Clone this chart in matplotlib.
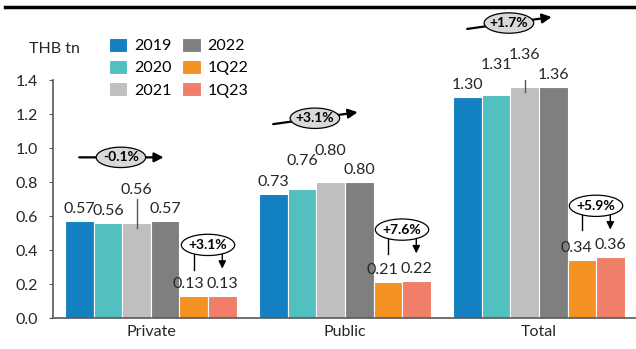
import numpy as np
import matplotlib
matplotlib.use("Agg")
import matplotlib.pyplot as plt
from matplotlib.patches import Ellipse
from matplotlib.lines import Line2D

plt.rcParams['font.family'] = ['Lato', 'DejaVu Sans']

groups = ["Private", "Public", "Total"]
periods = ["2019", "2020", "2021", "2022", "1Q22", "1Q23"]
colors = ["#1380C2", "#52BFC0", "#BFBFBF", "#7F7F7F", "#F39123", "#F07F6A"]

private = [0.57, 0.56, 0.56, 0.57, 0.13, 0.13]
public = [0.73, 0.76, 0.80, 0.80, 0.21, 0.22]
total = [1.30, 1.31, 1.36, 1.36, 0.34, 0.36]

cagr_labels = ["-0.1%", "+3.1%", "+1.7%"]
yoy_labels = ["+3.1%", "+7.6%", "+5.9%"]

# extra lift (px) for some value labels, as in the original
lift = [[0, 0, 21, 0, 0, 0],
        [0, 16, 19, 0, 0, 0],
        [0, 18, 20, 0, 0, 0]]
leader = [True, False, True]

W, H = 636, 349
FS = 11.5
fig = plt.figure(figsize=(W / 100, H / 100), dpi=100)
ax = fig.add_axes([53 / W, 31 / H, 583 / W, 238 / H])

data = np.array([private, public, total])
x = np.arange(len(groups))
w = 0.147
px = 1.4 / 238  # data units per pixel (y)

for i in range(len(periods)):
    ax.bar(x + (i - 2.5) * w, data[:, i], w, color=colors[i], edgecolor='white',
           linewidth=0.8, label=periods[i], zorder=2)

# value labels
for g in range(len(groups)):
    for i in range(len(periods)):
        xc = g + (i - 2.5) * w
        v = data[g, i]
        dy = (12 + lift[g][i]) * 0.72
        dx = -5 * 0.72 if i == 4 else 0
        ax.annotate(f"{v:.2f}", (xc, v), xytext=(dx, dy), textcoords='offset points',
                    ha='center', va='center', fontsize=FS, color='#262626')
    if leader[g]:
        xc = g - 0.5 * w
        v = data[g, 2]
        ax.plot([xc, xc], [v - 5 * px, v + (3 + lift[g][2]) * px], color='#595959', lw=1, zorder=3)

arrow_big = dict(arrowstyle='-|>,head_length=0.55,head_width=0.28', color='black', lw=1.6,
                 shrinkA=0, shrinkB=0)
arrow_small = dict(arrowstyle='-|>,head_length=0.45,head_width=0.22', color='black', lw=1,
                   shrinkA=0, shrinkB=0)

for g in range(len(groups)):
    # 2019-2022 growth
    ey = data[g, :4].max() + 0.375
    ex = g - 0.155
    slope = 0 if g == 0 else 0.07 / 0.435
    x0, x1 = g - 0.37, g + 0.065
    ax.annotate("", xy=(x1, ey + slope * (x1 - ex)), xytext=(x0, ey + slope * (x0 - ex)),
                arrowprops=arrow_big, annotation_clip=False, zorder=4)
    ax.add_patch(Ellipse((ex, ey), 0.255, 0.12, facecolor='#D9D9D9', edgecolor='black',
                         lw=0.9, zorder=5, clip_on=False))
    ax.text(ex, ey, cagr_labels[g], ha='center', va='center', fontsize=10, fontweight='bold',
            zorder=6, clip_on=False)

    # 1Q22 -> 1Q23 growth
    qy = data[g, 4:].max() + 0.30
    qx = g + 2.0 * w
    ax.plot([g + 1.5 * w] * 2, [qy, qy - 0.145], color='black', lw=1, zorder=4)
    ax.annotate("", xy=(g + 2.5 * w, qy - 0.14), xytext=(g + 2.5 * w, qy),
                arrowprops=arrow_small, zorder=4)
    ax.add_patch(Ellipse((qx, qy), 0.275, 0.125, facecolor='white', edgecolor='black',
                         lw=0.9, zorder=5))
    ax.text(qx, qy, yoy_labels[g], ha='center', va='center', fontsize=10, fontweight='bold',
            zorder=6)

ax.set_xlim(-0.505, 2.5)
ax.set_ylim(0, 1.4)
ax.set_yticks(np.arange(0, 1.41, 0.2))
ax.set_yticklabels([f"{t:.1f}" for t in np.arange(0, 1.41, 0.2)])
ax.set_xticks(x)
ax.set_xticklabels(groups)
for s in ['top', 'right']:
    ax.spines[s].set_visible(False)
for s in ['left', 'bottom']:
    ax.spines[s].set_color('#595959')
    ax.spines[s].set_linewidth(1.2)
ax.tick_params(axis='y', direction='out', length=3, color='#595959', labelsize=FS,
               pad=8, labelcolor='#262626')
ax.tick_params(axis='x', length=0, labelsize=FS, pad=5, labelcolor='#262626')

fig.text(54 / W, 1 - 49 / H, "THB tn", ha='center', va='center', fontsize=FS, color='#262626')

fig.legend(ncol=2, loc='upper left', bbox_to_anchor=(109 / W, 1 - 38 / H), frameon=False,
           fontsize=FS, borderpad=0, borderaxespad=0, handlelength=1.15, handleheight=0.95,
           handletextpad=0.4, columnspacing=0.7, labelspacing=0.42)

fig.add_artist(Line2D([5 / W, 1], [1 - 6.5 / H] * 2, color='black', lw=2.5))

fig.savefig("out.png", dpi=100)
